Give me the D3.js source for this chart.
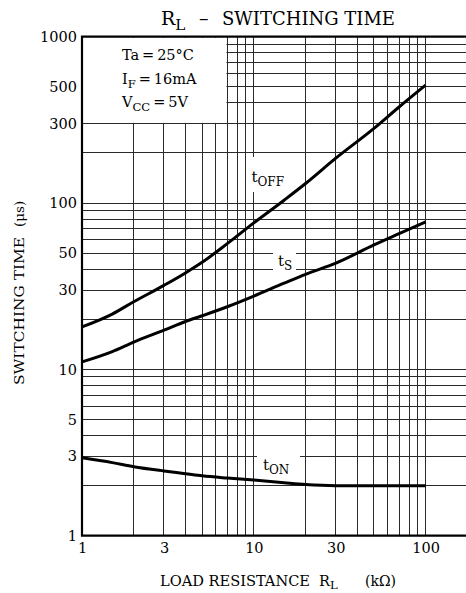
<!DOCTYPE html>
<html><head><meta charset="utf-8">
<script src="https://cdn.jsdelivr.net/npm/d3@7"></script>
<style>
html,body{margin:0;padding:0;background:#fff;}
svg{display:block;}
text{font-family:"DejaVu Serif",serif;fill:#000;}
</style></head>
<body><svg id="c" width="466" height="593"></svg>
<script>
// ---- data ----
const xTicks = [1, 3, 10, 30, 100];
const yTicks = [1, 3, 5, 10, 30, 50, 100, 300, 500, 1000];
const loadRes = [1, 1.5, 2, 3, 4, 5, 7, 10, 15, 20, 30, 50, 70, 100];
const tOff = [18, 21.5, 25.5, 32, 38, 44, 57, 76, 104, 131, 186, 281, 378, 512];
const tS   = [11.1, 12.8, 14.6, 17.2, 19.4, 21, 23.8, 27.6, 33, 37.3, 43.5, 56, 65.4, 77];
const tOn  = [2.94, 2.75, 2.6, 2.45, 2.36, 2.29, 2.22, 2.16, 2.08, 2.03, 2.0, 2.0, 2.0, 2.0];

const W = 466, H = 593;
const svg = d3.select("#c");
const x = d3.scaleLog().domain([1, 100]).range([82, 425.7]);
const y = d3.scaleLog().domain([1, 1000]).range([535.7, 36.7]);

// grid values
const xGrid = [], yGrid = [];
[1, 10, 100].forEach(d => { for (let m = 1; m <= 9; m++) { if (x(m*d) <= W) xGrid.push(m*d); yGrid.push(m*d); } });
yGrid.push(1000);

const grid = svg.append("g").attr("stroke", "#2a2a2a").attr("stroke-width", 1).attr("shape-rendering", "crispEdges");
grid.selectAll("line.v").data(xGrid).join("line").attr("class","v")
  .attr("x1", d => x(d)).attr("x2", d => x(d)).attr("y1", y(1)).attr("y2", y(1000));
grid.selectAll("line.h").data(yGrid).join("line").attr("class","h")
  .attr("x1", x(1)).attr("x2", W).attr("y1", d => y(d)).attr("y2", d => y(d));

// masks (condition box and curve labels)
const mask = svg.append("g").attr("fill", "#fff");
mask.append("rect").attr("x", x(1)+1).attr("y", y(1000)+1)
  .attr("width", x(7)-x(1)-1.8).attr("height", y(300)-y(1000)-1.8);
mask.append("rect").attr("x", 247).attr("y", 157).attr("width", 43).attr("height", 35);
mask.append("rect").attr("x", 273).attr("y", 245).attr("width", 23).attr("height", 32);
mask.append("rect").attr("x", 257).attr("y", 447).attr("width", 43).attr("height", 31);

// frame
svg.append("path").attr("fill","none").attr("stroke","#000").attr("stroke-width",2.2)
  .attr("d", `M${W},${y(1000)}H${x(1)}V${y(1)}H${W}`);

// curves
const line = d3.line().x((d,i) => x(loadRes[i])).y(d => y(d)).curve(d3.curveMonotoneX);
[tOff, tS, tOn].forEach(s => {
  svg.append("path").datum(s).attr("fill","none").attr("stroke","#000")
    .attr("stroke-width", 3).attr("stroke-linejoin","round").attr("d", line);
});

// axes labels via d3 axes
const ya = svg.append("g").attr("transform", `translate(${x(1)},0)`)
  .call(d3.axisLeft(y).tickValues(yTicks).tickFormat(d3.format("d")).tickSize(0).tickPadding(5));
const xa = svg.append("g").attr("transform", `translate(0,${y(1)})`)
  .call(d3.axisBottom(x).tickValues(xTicks).tickFormat(d3.format("d")).tickSize(0).tickPadding(7));
[ya, xa].forEach(a => {
  a.select(".domain").remove();
  a.selectAll("text").attr("font-family", "DejaVu Serif").attr("font-size", 14.5).attr("fill", "#000");
});

// helper for text with subscript
function sub(g, px, py, main, s, size, after) {
  const t = g.append("text").attr("x", px).attr("y", py).attr("font-size", size).style("white-space","pre");
  t.append("tspan").text(main);
  t.append("tspan").attr("dy", size*0.25).attr("font-size", size*0.8).text(s);
  if (after) t.append("tspan").attr("dy", -size*0.25).text(after);
  return t;
}

// title
sub(svg, 161, 25, "R", "L", 19);
svg.append("text").attr("x", 199).attr("y", 25).attr("font-size", 19).text("–");
svg.append("text").attr("x", 222).attr("y", 25).attr("font-size", 18.5)
  .attr("textLength", 173).attr("lengthAdjust", "spacingAndGlyphs").text("SWITCHING TIME");

// condition box
svg.append("text").attr("x", 122).attr("y", 60).attr("font-size", 14.5).style("white-space","pre").text("Ta\u2009=\u200925°C");
sub(svg, 122, 84, "I", "F", 14.5, "\u2009=\u200916mA");
sub(svg, 122, 107, "V", "CC", 14.5, "\u2009=\u20095V");

// curve labels
sub(svg, 251.5, 182, "t", "OFF", 15);
sub(svg, 278, 266, "t", "S", 15);
sub(svg, 263, 470, "t", "ON", 15);

// axis titles
svg.append("text").attr("x", 160).attr("y", 585.5).attr("font-size", 14.5)
  .attr("textLength", 150).attr("lengthAdjust", "spacingAndGlyphs").text("LOAD RESISTANCE");
sub(svg, 319, 585.5, "R", "L", 14.5);
svg.append("text").attr("x", 365).attr("y", 585.5).attr("font-size", 14).text("(kΩ)");

svg.append("text").attr("transform", "translate(24,385) rotate(-90)").attr("font-size", 13.5)
  .attr("textLength", 148).attr("lengthAdjust", "spacingAndGlyphs").text("SWITCHING TIME");
svg.append("text").attr("transform", "translate(24,227) rotate(-90)").attr("font-size", 13.5)
  .text("(μs)");
</script></body></html>
